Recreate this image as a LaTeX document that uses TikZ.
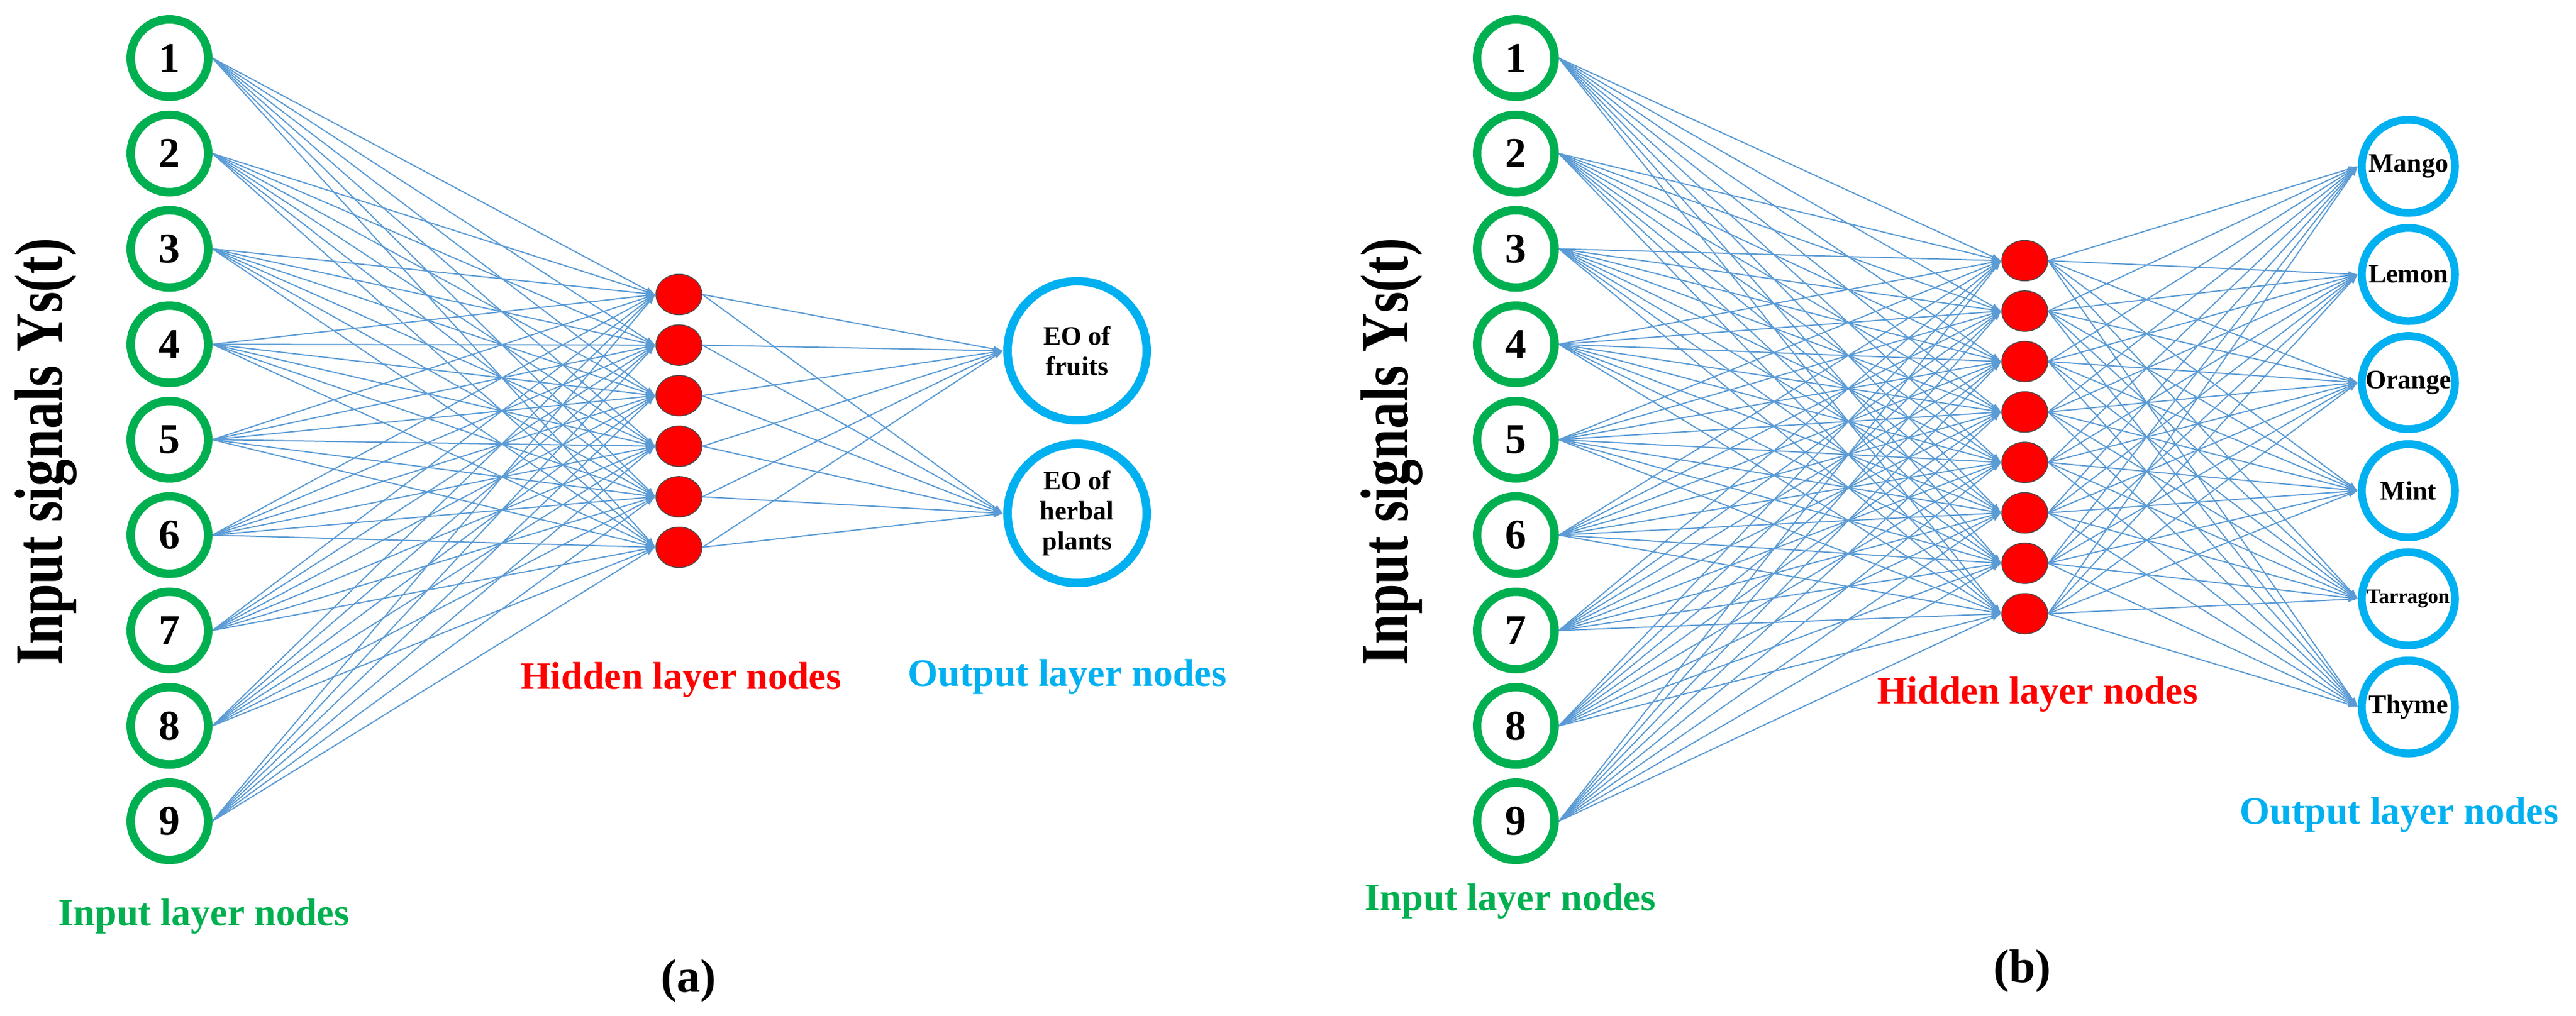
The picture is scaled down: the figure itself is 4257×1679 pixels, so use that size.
\documentclass[tikz,border=0pt]{standalone}
\usepackage{fontspec}
\setmainfont{Liberation Serif}
\usetikzlibrary{arrows.meta,backgrounds,shapes.geometric}
\definecolor{ingreen}{HTML}{00B050}
\definecolor{outblue}{HTML}{00B0F0}
\definecolor{edgeblue}{HTML}{5B9BD5}
\begin{document}
\begin{tikzpicture}[x=1pt,y=-1pt,
  inp/.style={circle,draw=ingreen,line width=14pt,minimum size=128pt,inner sep=0pt,font=\fontsize{70}{70}\selectfont\bfseries},
  hid/.style={ellipse,draw=black!70,fill=red,line width=1.5pt,minimum width=76pt,minimum height=67pt,inner sep=0pt},
  outA/.style={circle,draw=outblue,line width=14pt,minimum size=230pt,inner sep=0pt,align=center,font=\fontsize{44}{50}\selectfont\bfseries},
  outB/.style={circle,draw=outblue,line width=13pt,minimum size=154pt,inner sep=0pt,font=\fontsize{44}{44}\selectfont\bfseries},
  conn/.style={draw=edgeblue,line width=2pt,-{Latex[length=16pt,width=10pt]}},
  sidelab/.style={rotate=90,font=\fontsize{112}{112}\selectfont\bfseries},
  lab/.style={font=\fontsize{64}{64}\selectfont\bfseries},
  subcap/.style={font=\fontsize{78}{78}\selectfont\bfseries}]
\useasboundingbox (0,0) rectangle (4257,1679);
% panel a
\foreach \i in {1,...,9} \node[inp] (a\i) at (280,{96+(\i-1)*157.75}) {\i};
\foreach \j in {1,...,6} \node[hid] (ah\j) at (1122,{487+(\j-1)*83.6}) {};
\node[outA] (ao1) at (1780,580) {EO of\\fruits};
\node[outA] (ao2) at (1780,849) {EO of\\herbal\\plants};
\begin{scope}[on background layer]
\foreach \i in {1,...,9} \foreach \j in {1,...,6} \draw[conn] (a\i.east) -- (ah\j.west);
\foreach \j in {1,...,6} \foreach \k in {1,2} \draw[conn] (ah\j.east) -- (ao\k.west);
\end{scope}
\node[sidelab,xscale=0.8] (asig) at (76,747) {Input signals Ys(t)};
\node[lab,text=ingreen] (ainl) at (337,1515) {Input layer nodes};
\node[lab,text=red] (ahl) at (1125,1124) {Hidden layer nodes};
\node[lab,text=outblue] (aol) at (1764,1119) {Output layer nodes};
\node[subcap] (acap) at (1138,1622) {(a)};
% panel b
\foreach \i in {1,...,9} \node[inp] (b\i) at (2505,{96+(\i-1)*157.75}) {\i};
\foreach \j in {1,...,8} \node[hid] (bh\j) at (3346,{431+(\j-1)*83.4}) {};
\foreach \t [count=\k] in {Mango,Lemon,Orange,Mint,{\fontsize{34}{34}\selectfont Tarragon},Thyme}
  \node[outB] (bo\k) at (3980,{275+(\k-1)*178.8}) {\t};
\begin{scope}[on background layer]
\foreach \i in {1,...,9} \foreach \j in {1,...,8} \draw[conn] (b\i.east) -- (bh\j.west);
\foreach \j in {1,...,8} \foreach \k in {1,...,6} \draw[conn] (bh\j.east) -- (bo\k.west);
\end{scope}
\node[sidelab,xscale=0.8] (bsig) at (2300,747) {Input signals Ys(t)};
\node[lab,text=ingreen] (binl) at (2496,1490) {Input layer nodes};
\node[lab,text=red] (bhl) at (3367,1148) {Hidden layer nodes};
\node[lab,text=outblue] (bol) at (3965,1347) {Output layer nodes};
\node[subcap] (bcap) at (3342,1606) {(b)};
\end{tikzpicture}
\end{document}
